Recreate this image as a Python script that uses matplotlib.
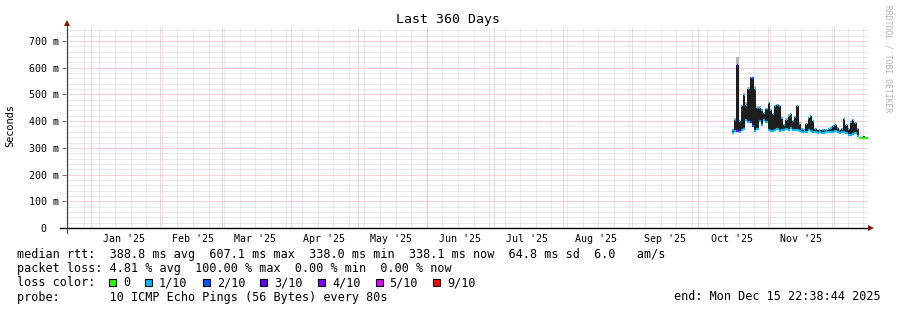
import numpy as np
import pandas as pd
import matplotlib
matplotlib.use('Agg')
import matplotlib.pyplot as plt
from matplotlib.lines import Line2D
from matplotlib.patches import Rectangle

# ---- data ----
end_time = pd.Timestamp('2025-12-15 22:38:44')
start_time = end_time - pd.Timedelta(days=360)
first_day = '2025-10-16'

# bottom of the smoke / median (ms)
rtt_low = [355, 362, 362, 360, 365, 370, 404, 395, 395, 380,
           362, 370, 400, 385, 405, 395, 365, 362, 362, 365,
           370, 362, 365, 368, 370, 368, 375, 368, 365, 368,
           362, 360, 358, 360, 365, 362, 360, 358, 357, 358,
           356, 357, 358, 358, 360, 360, 362, 358, 355, 358,
           360, 355, 350, 348, 352, 355, 345, 338, 338, 338, 338]
# top of the dark smoke (ms)
rtt_high = [365, 404, 610, 400, 455, 498, 460, 520, 560, 560,
            520, 450, 448, 440, 430, 445, 468, 440, 428, 455,
            460, 455, 410, 385, 405, 420, 428, 400, 415, 455,
            390, 372, 368, 390, 410, 418, 400, 372, 365, 368,
            365, 366, 368, 370, 375, 383, 385, 375, 368, 372,
            407, 385, 372, 395, 404, 392, 372, 340, 339, 343, 339]
# light grey smoke on top (ms)
rtt_max = [370, 410, 640, 405, 460, 505, 470, 528, 565, 565,
           530, 455, 455, 445, 435, 450, 472, 445, 432, 460,
           465, 460, 415, 390, 410, 425, 432, 405, 420, 460,
           395, 376, 372, 394, 414, 422, 404, 376, 368, 372,
           368, 369, 371, 373, 378, 386, 388, 378, 371, 375,
           410, 388, 375, 398, 407, 395, 375, 342, 341, 345, 341]
# loss in tenths
loss = [1, 1, 4, 1, 1, 1, 1, 1, 3, 2,
        1, 1, 1, 1, 1, 1, 1, 1, 1, 1,
        1, 1, 1, 1, 1, 1, 1, 1, 1, 1,
        1, 1, 1, 1, 1, 1, 1, 1, 1, 1,
        1, 1, 1, 1, 1, 1, 1, 1, 1, 1,
        1, 1, 1, 1, 1, 1, 1, 0, 0, 0, 0]

loss_labels = ['0', '1/10', '2/10', '3/10', '4/10', '5/10', '9/10']
loss_steps = [0, 1, 2, 3, 4, 5, 9]
loss_colors = ['#26ff00', '#00b8ff', '#0059ff', '#5e00ff', '#7e00ff', '#dd00ff', '#ff0000']

median_stats = ['388.8 ms avg', '607.1 ms max', '338.0 ms min', '338.1 ms now', '64.8 ms sd', '6.0   am/s']
loss_stats = ['4.81 % avg', '100.00 % max', '0.00 % min', '0.00 % now']
probe_text = '10 ICMP Echo Pings (56 Bytes) every 80s'
title = 'Last 360 Days'

# ---- figure ----
W, H = 897, 310
fig = plt.figure(figsize=(W / 100, H / 100), dpi=100, facecolor='white')
mono = 'DejaVu Sans Mono'


def fx(px):
    return px / W


def fy(py):
    return 1 - py / H


ax_l, ax_r, ax_t, ax_b = 65.9, 867.6, 26, 228
ax = fig.add_axes([fx(ax_l), fy(ax_b), (ax_r - ax_l) / W, (ax_b - ax_t) / H])
ax.set_facecolor('white')
ymax = (ax_b - ax_t) * 700 / (228 - 41)
ax.set_xlim(start_time, end_time)
ax.set_ylim(0, ymax)
for s in ax.spines.values():
    s.set_visible(False)

grid_minor = '#d4d4d4'
grid_major = '#f4aaaa'
dots = (0, (1, 1))
gkw = dict(lw=0.72, ls=dots, snap=True)

# horizontal grid
for v in np.arange(20, ymax, 20):
    if v % 100 == 0:
        continue
    ax.axhline(v, color=grid_minor, zorder=0, **gkw)
for v in np.arange(100, ymax, 100):
    ax.axhline(v, color=grid_major, zorder=0.5, **gkw)

# vertical grid: weeks (sundays) and month starts
for d in pd.date_range(start_time.normalize(), end_time, freq='W-SUN'):
    ax.axvline(d, color=grid_minor, zorder=0, **gkw)
months = pd.date_range('2025-01-01', end_time, freq='MS')
for d in months:
    ax.axvline(d, color=grid_major, zorder=0.5, **gkw)

# ---- smoke + median ----
days = pd.date_range(first_day, periods=len(rtt_low), freq='D')
edges = list(days) + [days[-1] + pd.Timedelta(days=1)]
lo = np.array(rtt_low + [rtt_low[-1]])
hi = np.array(rtt_high + [rtt_high[-1]])
mx = np.array(rtt_max + [rtt_max[-1]])
ax.fill_between(edges, hi, mx, step='post', color='#b4b4b4', lw=0, zorder=2)
ax.fill_between(edges, lo, hi, step='post', color='#1e1e1e', lw=0, zorder=3)

for i, d in enumerate(days):
    c = loss_colors[loss_steps.index(loss[i])]
    d1 = d + pd.Timedelta(days=1)
    ax.hlines(rtt_low[i], d, d1, color=c, lw=1.6, zorder=4)
    if rtt_high[i] - rtt_low[i] > 8:
        ax.hlines(rtt_high[i], d + pd.Timedelta(hours=6), d + pd.Timedelta(hours=18),
                  color=c, lw=1.6, zorder=4)

# ---- ticks ----
mid_months = [d + pd.Timedelta(days=15) for d in months if d + pd.Timedelta(days=15) < end_time]
ax.set_xticks(mid_months)
ax.set_xticklabels([d.strftime("%b '%y") for d in mid_months], family=mono, fontsize=7.2)
ax.tick_params(axis='x', length=0, pad=4)

yt = np.arange(0, ymax, 100)
ax.set_yticks(yt)
ax.set_yticklabels(['%d m' % v if v > 0 else '0\u00a0\u00a0' for v in yt], family=mono, fontsize=7.2)
ax.tick_params(axis='y', length=3, width=0.7, color='#707070', pad=2.2)

# ---- axis lines + arrows ----
arrow_c = '#8b1010'
fig.add_artist(Line2D([fx(60), fx(870)], [fy(228), fy(228)], color='black', lw=1.0))
fig.add_artist(Line2D([fx(67), fx(67)], [fy(233), fy(25)], color='#404040', lw=0.8))
fig.add_artist(Line2D([fx(871)], [fy(228)], marker='>', color=arrow_c, ms=4, mew=0))
fig.add_artist(Line2D([fx(67)], [fy(23)], marker='^', color=arrow_c, ms=4, mew=0))

# ---- texts ----
fig.text(fx(448), fy(19), title, family=mono, fontsize=9.5, ha='center', va='center')
fig.text(fx(10), fy(126), 'Seconds', family=mono, fontsize=7.4, rotation=90,
         ha='center', va='center')
fig.text(fx(888), fy(59), 'RRDTOOL / TOBI OETIKER', family=mono, fontsize=5.8,
         rotation=-90, ha='center', va='center', color='#b0b0b0')

lx = 16.5
leg_fs = 8.5
row1 = 'median rtt:  ' + '  '.join(median_stats)
row2 = 'packet loss: ' + '  '.join(loss_stats)
fig.text(fx(lx), fy(254.3), row1, family=mono, fontsize=leg_fs, va='center')
fig.text(fx(lx), fy(268.3), row2, family=mono, fontsize=leg_fs, va='center')
fig.text(fx(lx), fy(282.5), 'loss color:', family=mono, fontsize=leg_fs, va='center')
fig.text(fx(lx), fy(297), 'probe:       ' + probe_text, family=mono, fontsize=leg_fs, va='center')
fig.text(fx(881), fy(297), 'end: Mon Dec 15 22:38:44 2025', family=mono, fontsize=leg_fs,
         va='center', ha='right')

cw = 7.2
col = 13
for lab, c in zip(loss_labels, loss_colors):
    bx = lx + col * cw - 1
    fig.add_artist(Rectangle((fx(bx), fy(286)), 7 / W, 7 / H, transform=fig.transFigure,
                             facecolor=c, edgecolor='black', lw=0.8))
    fig.text(fx(bx + 14), fy(282.5), lab, family=mono, fontsize=leg_fs, va='center')
    col += 5 if lab == '0' else 8

fig.savefig('out.png', dpi=100, facecolor='white')
